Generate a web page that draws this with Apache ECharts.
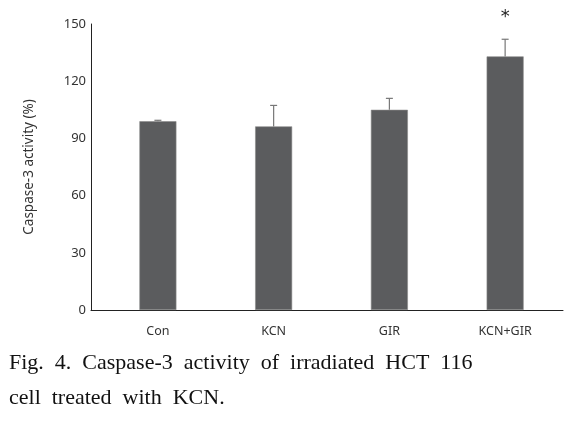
<!DOCTYPE html>
<html><head><meta charset="utf-8">
<script src="https://cdn.jsdelivr.net/npm/echarts@6/dist/echarts.min.js"></script>
<style>html,body{margin:0;padding:0;background:#fff}#c{width:583px;height:422px}</style>
</head><body><div id="c"></div>
<script>
const categories = ['Con', 'KCN', 'GIR', 'KCN+GIR'];
const means = [99, 96.3, 105, 133];
const errors = [0.5, 11, 6, 9];
const marks = ['', '', '', '*'];
const yTicks = [0, 30, 60, 90, 120, 150];

const chart = echarts.init(document.getElementById('c'));
const positions = categories.map((_, i) => i);
chart.setOption({
  animation: false,
  backgroundColor: '#fff',
  title: {
    text: 'Fig.  4.  Caspase-3  activity  of  irradiated  HCT  116\ncell  treated  with  KCN.',
    left: 4, top: 341,
    textStyle: { fontFamily: 'Liberation Serif', fontSize: 22, fontWeight: 'normal', color: '#111', lineHeight: 35 }
  },
  grid: { left: 91, right: 20, top: 24, bottom: 112 },
  xAxis: {
    type: 'value', min: -0.578, max: 3.5,
    axisLine: { show: true, onZero: false, lineStyle: { color: '#222', width: 1 } },
    axisTick: { show: false },
    splitLine: { show: false },
    axisLabel: {
      customValues: positions,
      formatter: v => categories[Math.round(v)],
      fontFamily: 'Noto Sans', fontSize: 12.5, color: '#333', margin: 15
    }
  },
  yAxis: {
    type: 'value', min: yTicks[0], max: yTicks[yTicks.length - 1], interval: 30,
    name: 'Caspase-3 activity (%)', nameLocation: 'middle', nameGap: 55,
    nameTextStyle: { fontFamily: 'Noto Sans', fontSize: 13.5, color: '#333' },
    axisLine: { show: true, onZero: false, lineStyle: { color: '#222', width: 1 } },
    axisTick: { show: false },
    splitLine: { show: false },
    axisLabel: { fontFamily: 'Noto Sans', fontSize: 13, color: '#333', margin: 5 }
  },
  series: [
    {
      type: 'bar', barWidth: 37,
      data: means.map((m, i) => [positions[i], m]),
      itemStyle: { color: '#5b5c5e', borderColor: '#8a8a8a', borderWidth: 0.6 }
    },
    {
      type: 'custom',
      data: means.map((m, i) => [positions[i], m, errors[i], marks[i]]),
      renderItem: (params, api) => {
        const x = api.value(0), m = api.value(1), e = api.value(2);
        const base = api.coord([x, m]);
        const top = api.coord([x, m + e]);
        const children = [
          { type: 'line', shape: { x1: base[0], y1: base[1], x2: top[0], y2: top[1] }, style: { stroke: '#777', lineWidth: 1.2 } },
          { type: 'line', shape: { x1: top[0] - 3.5, y1: top[1], x2: top[0] + 3.5, y2: top[1] }, style: { stroke: '#777', lineWidth: 1.2 } }
        ];
        const mk = marks[params.dataIndex];
        if (mk) {
          children.push({ type: 'text', style: { text: mk, x: top[0], y: top[1] - 22, align: 'center', verticalAlign: 'middle', fontSize: 18, fontFamily: 'DejaVu Sans', fill: '#222' } });
        }
        return { type: 'group', children };
      },
      z: 5
    }
  ]
});
</script></body></html>
